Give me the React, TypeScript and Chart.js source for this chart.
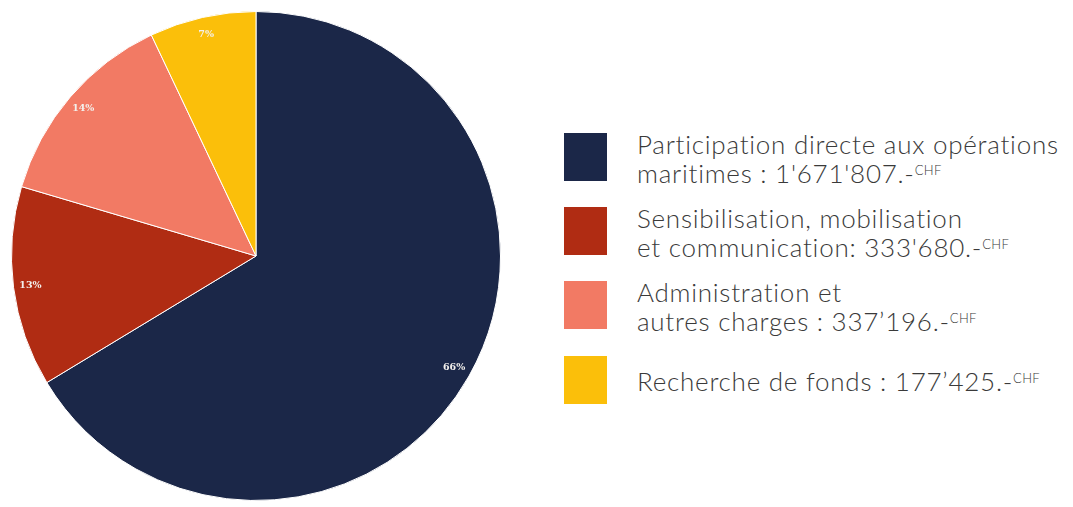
import React, { useEffect, useRef } from "react";
import { Chart, registerables } from "chart.js";

Chart.register(...registerables);

const categories = [
  "Participation directe aux opérations maritimes",
  "Sensibilisation, mobilisation et communication",
  "Administration et autres charges",
  "Recherche de fonds",
];
const values = [1671807, 333680, 337196, 177425];
const percentLabels = ["66%", "13%", "14%", "7%"];
const colors = ["#1b2748", "#b02c13", "#f27a64", "#fbbf0a"];
const legendLine1 = [
  "Participation directe aux opérations",
  "Sensibilisation, mobilisation",
  "Administration et",
  "",
];
const legendLine2 = [
  "maritimes : 1'671'807.-",
  "et communication: 333'680.-",
  "autres charges : 337’196.-",
  "Recherche de fonds : 177’425.-",
];

const labelPlugin = {
  id: "pctLabels",
  afterDatasetsDraw(chart: any) {
    const ctx = chart.ctx;
    const meta = chart.getDatasetMeta(0);
    ctx.save();
    ctx.font = "bold 9.5px 'DejaVu Serif'";
    ctx.fillStyle = "#f3f0ec";
    ctx.textAlign = "center";
    ctx.textBaseline = "middle";
    meta.data.forEach((arc: any, i: number) => {
      const { x, y, startAngle, endAngle, outerRadius } = arc.getProps(
        ["x", "y", "startAngle", "endAngle", "outerRadius"],
        true
      );
      const mid = (startAngle + endAngle) / 2;
      const r = outerRadius * 0.93;
      ctx.fillText(percentLabels[i], x + Math.cos(mid) * r, y + Math.sin(mid) * r);
    });
    ctx.restore();
  },
};

export default function App() {
  const ref = useRef<HTMLCanvasElement | null>(null);
  useEffect(() => {
    if (!ref.current) return;
    const chart = new Chart(ref.current, {
      type: "pie",
      data: {
        labels: categories,
        datasets: [
          {
            data: values,
            backgroundColor: colors,
            borderColor: "#ffffff",
            borderWidth: 1,
          },
        ],
      },
      options: {
        animation: false,
        responsive: true,
        maintainAspectRatio: false,
        layout: { padding: 0 },
        plugins: {
          legend: { display: false },
          tooltip: { enabled: false },
        },
      },
      plugins: [labelPlugin],
    });
    return () => chart.destroy();
  }, []);

  const textStyle: React.CSSProperties = {
    fontFamily: "Lato, 'Open Sans', sans-serif",
    fontWeight: 300,
    fontSize: 26,
    letterSpacing: "0.75px",
    lineHeight: "29px",
    color: "#3a3a3a",
    whiteSpace: "nowrap",
  };
  const swatchTops = [133, 207, 281, 356];

  return (
    <div
      style={{
        position: "absolute",
        left: 0,
        top: 0,
        width: 1073,
        height: 507,
        background: "#ffffff",
        overflow: "hidden",
      }}
    >
      <div style={{ position: "absolute", left: 11, top: 11, width: 490, height: 490 }}>
        <canvas ref={ref} />
      </div>
      {categories.map((c, i) => (
        <div key={c}>
          <div
            style={{
              position: "absolute",
              left: 564,
              top: swatchTops[i],
              width: 43,
              height: 48,
              background: colors[i],
            }}
          />
          <div
            style={{
              ...textStyle,
              position: "absolute",
              left: 637,
              top: legendLine1[i] ? swatchTops[i] - 3 : swatchTops[i] + 11,
            }}
          >
            {legendLine1[i] ? <div>{legendLine1[i]}</div> : null}
            <div>
              {legendLine2[i]}
              <span
                style={{
                  fontSize: 13,
                  letterSpacing: "0.3px",
                  verticalAlign: "top",
                  position: "relative",
                  top: -3,
                }}
              >
                CHF
              </span>
            </div>
          </div>
        </div>
      ))}
    </div>
  );
}
